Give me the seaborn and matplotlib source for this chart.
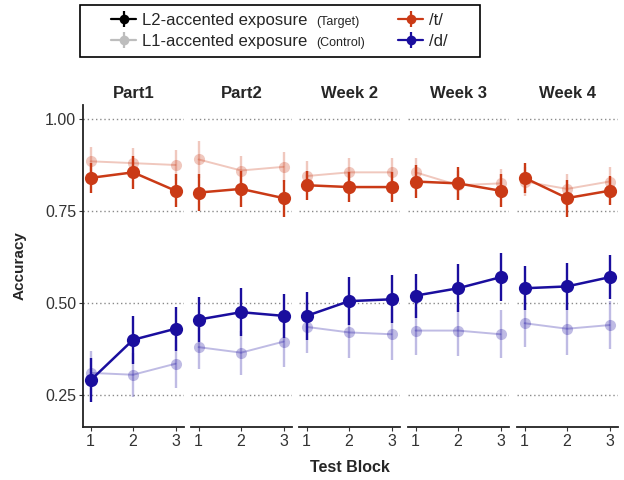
"""Accuracy by test block, session, exposure and phoneme."""

import matplotlib

matplotlib.use("Agg")

import matplotlib.pyplot as plt
import numpy as np
import pandas as pd
import seaborn as sns
from matplotlib.legend_handler import HandlerTuple
from matplotlib.lines import Line2D
from matplotlib.patches import Rectangle

sessions = ["Part1", "Part2", "Week 2", "Week 3", "Week 4"]
blocks = [1, 2, 3]

# values listed session by session, three blocks each
t_target = [0.84, 0.855, 0.805, 0.80, 0.81, 0.785, 0.82, 0.815, 0.815,
            0.83, 0.825, 0.805, 0.84, 0.785, 0.805]
t_target_err = [0.04, 0.045, 0.045, 0.05, 0.05, 0.05, 0.04, 0.04, 0.04,
                0.045, 0.045, 0.045, 0.04, 0.05, 0.04]
t_control = [0.885, 0.88, 0.875, 0.89, 0.86, 0.87, 0.845, 0.855, 0.855,
             0.855, 0.82, 0.825, 0.83, 0.81, 0.83]
t_control_err = [0.04, 0.04, 0.04, 0.05, 0.04, 0.04, 0.04, 0.04, 0.04,
                 0.04, 0.04, 0.04, 0.04, 0.04, 0.04]
d_target = [0.29, 0.40, 0.43, 0.455, 0.475, 0.465, 0.465, 0.505, 0.51,
            0.52, 0.54, 0.57, 0.54, 0.545, 0.57]
d_target_err = [0.06, 0.065, 0.06, 0.06, 0.065, 0.06, 0.065, 0.065, 0.065,
                0.06, 0.065, 0.065, 0.06, 0.065, 0.06]
d_control = [0.31, 0.305, 0.335, 0.38, 0.365, 0.395, 0.435, 0.42, 0.415,
             0.425, 0.425, 0.415, 0.445, 0.43, 0.44]
d_control_err = [0.06, 0.06, 0.065, 0.06, 0.06, 0.07, 0.07, 0.07, 0.07,
                 0.065, 0.07, 0.065, 0.065, 0.07, 0.065]

RED = "#CA3A16"
BLUE = "#1A0E9E"
colors = {"/t/": RED, "/d/": BLUE}

rows = []
series = [
    ("/t/", "Target", t_target, t_target_err),
    ("/t/", "Control", t_control, t_control_err),
    ("/d/", "Target", d_target, d_target_err),
    ("/d/", "Control", d_control, d_control_err),
]
for phon, expo, vals, errs in series:
    for i, (v, e) in enumerate(zip(vals, errs)):
        rows.append({"session": sessions[i // 3], "block": blocks[i % 3],
                     "phoneme": phon, "exposure": expo, "acc": v, "err": e})
df = pd.DataFrame(rows)

sns.set_theme(style="white")
plt.rcParams["font.family"] = ["Liberation Sans", "DejaVu Sans"]

W, H = 624, 480
fig = plt.figure(figsize=(W / 100, H / 100), dpi=100)

lefts = [83, 191, 299, 408, 517]
pw = 101
bottom = 1 - 427 / H
height = (427 - 105) / H

for k, (sess, lx) in enumerate(zip(sessions, lefts)):
    ax = fig.add_axes([lx / W, bottom, pw / W, height])
    sub = df[df["session"] == sess]
    for expo, alpha, ms, lw in [("Control", 0.28, 8, 1.4), ("Target", 1.0, 9.5, 1.8)]:
        part = sub[sub["exposure"] == expo]
        sns.lineplot(data=part, x="block", y="acc", hue="phoneme",
                     palette=colors, errorbar=None, marker="o",
                     markersize=ms, markeredgewidth=0, linewidth=lw,
                     alpha=alpha, legend=False, ax=ax, zorder=3)
        for phon, g in part.groupby("phoneme"):
            ax.errorbar(g["block"], g["acc"], yerr=g["err"], fmt="none",
                        ecolor=colors[phon], elinewidth=1.7, alpha=alpha,
                        capsize=0, zorder=2)

    ax.set_xlim(0.82, 3.2)
    ax.set_ylim(0.163, 1.038)
    ax.set_xticks(blocks)
    ax.set_xticklabels([str(b) for b in blocks])
    ax.set_yticks([0.25, 0.50, 0.75, 1.00])
    for yv in [0.25, 0.50, 0.75, 1.00]:
        ax.axhline(yv, color="#8a8a8a", linestyle=(0, (1, 2)), lw=1.0, zorder=1)
    ax.set_xlabel("")
    ax.set_ylabel("")
    ax.set_title(sess, fontsize=12, fontweight="bold", pad=5)
    for side in ["top", "right"]:
        ax.spines[side].set_visible(False)
    ax.spines["bottom"].set_color("#222222")
    ax.spines["bottom"].set_linewidth(1.3)
    ax.tick_params(axis="x", length=3, width=0.8, color="#333333",
                   labelsize=11.5, labelcolor="#333333", pad=2, bottom=True)
    if k == 0:
        ax.set_yticklabels(["0.25", "0.50", "0.75", "1.00"])
        ax.spines["left"].set_color("#222222")
        ax.spines["left"].set_linewidth(1.3)
        ax.tick_params(axis="y", length=3, width=0.8, color="#333333",
                       labelsize=11.5, labelcolor="#333333", pad=2, left=True)
    else:
        ax.spines["left"].set_visible(False)
        ax.tick_params(axis="y", left=False, labelleft=False)

fig.text(350 / W, 1 - 468 / H, "Test Block", ha="center", va="center",
         fontsize=11.5, fontweight="bold")
fig.text(20 / W, 1 - 266 / H, "Accuracy", ha="center", va="center",
         rotation=90, fontsize=11, fontweight="bold")


def key(color):
    dot = Line2D([], [], color=color, marker="o", markersize=7,
                 markeredgewidth=0, linewidth=1.6)
    bar = Line2D([], [], color=color, marker="|", markersize=12,
                 markeredgewidth=1.6, linestyle="none")
    return (dot, bar)


common = dict(loc="center left", frameon=False, fontsize=12, borderpad=0,
              borderaxespad=0, handlelength=1.5, handletextpad=0.35,
              labelspacing=0.35, handler_map={tuple: HandlerTuple(ndivide=1)})
leg1 = fig.legend([key("black"), key("#BDBDBD")],
                  ["L2-accented exposure", "L1-accented exposure"],
                  bbox_to_anchor=(111 / W, 1 - 31 / H), **common)
leg2 = fig.legend([key(RED), key(BLUE)], ["/t/", "/d/"],
                  bbox_to_anchor=(398 / W, 1 - 31 / H), **common)

fig.add_artist(Rectangle((80 / W, 1 - 57 / H), 400 / W, 52 / H,
                         transform=fig.transFigure, fill=False,
                         edgecolor="black", linewidth=1.2))

fig.canvas.draw()
renderer = fig.canvas.get_renderer()
for txt, extra in zip(leg1.get_texts(), ["(Target)", "(Control)"]):
    bb = txt.get_window_extent(renderer)
    fig.text((bb.x1 + 9) / W, ((bb.y0 + bb.y1) / 2 - 1.5) / H, extra,
             fontsize=9, ha="left", va="center")

fig.savefig("out.png", dpi=100)
